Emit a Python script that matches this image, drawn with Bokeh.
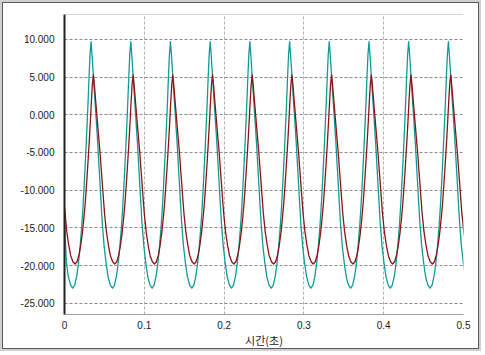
from bokeh.plotting import figure
from bokeh.models import Range1d, FixedTicker, PrintfTickFormatter, Span
from bokeh.embed import file_html
from bokeh.resources import INLINE

# ---- data ----
# time of each cycle's minimum (s)
teal_trough_t = [0.0103, 0.0601, 0.1098, 0.1596, 0.2093, 0.2591, 0.3088, 0.3586, 0.4083, 0.4581]
red_trough_t = [0.0132, 0.0630, 0.1127, 0.1625, 0.2122, 0.2620, 0.3117, 0.3615, 0.4112, 0.4610]
# one cycle, sampled from the minimum (ms after the minimum)
phase_ms = [0, 2.5, 5.0, 7.0, 9.2, 11.3, 12.8, 14.2, 15.4, 16.7,
            17.9, 19.2, 20.5, 21.7, 23.0, 24.3, 25.9, 27.4, 28.9, 30.1,
            31.4, 32.6, 33.9, 35.4, 37.0, 39.3, 41.8, 44.3, 47.1]
teal_cycle = [-23.0, -22.6, -21.4, -19.9, -17.6, -14.8, -12.4, -9.7, -7.2, -4.4,
              -1.6, 1.6, 5.1, 8.0, 9.7, 7.8, 5.1, 2.6, 0.2, -1.8,
              -3.9, -6.2, -8.6, -11.4, -14.3, -17.4, -19.7, -21.5, -22.6]
red_cycle = [-19.8, -19.5, -18.6, -17.4, -15.7, -13.5, -11.7, -9.6, -7.7, -5.5,
             -3.4, -0.9, 1.8, 4.0, 5.3, 3.9, 1.8, -0.1, -2.0, -3.5,
             -5.1, -6.9, -8.7, -10.9, -13.1, -15.5, -17.3, -18.7, -19.5]
# start of the record, before the first minimum
teal_lead_t = [0.0, 0.0024, 0.0049, 0.0077]
teal_lead_v = [-14.0, -19.7, -21.5, -22.6]
red_lead_t = [0.0, 0.0028, 0.0053, 0.0078, 0.0106]
red_lead_v = [-12.2, -15.5, -17.3, -18.7, -19.5]

x_ticks = [0, 0.1, 0.2, 0.3, 0.4, 0.5]
y_ticks = [-25, -20, -15, -10, -5, 0, 5, 10]
x_label = "시간(초)"

teal_t = list(teal_lead_t)
teal_v = list(teal_lead_v)
for tr in teal_trough_t:
    for ph, v in zip(phase_ms, teal_cycle):
        teal_t.append(tr + ph / 1000.0)
        teal_v.append(v)
red_t = list(red_lead_t)
red_v = list(red_lead_v)
for tr in red_trough_t:
    for ph, v in zip(phase_ms, red_cycle):
        red_t.append(tr + ph / 1000.0)
        red_v.append(v)

p = figure(width=477, height=347, output_backend="svg", toolbar_location=None,
           x_range=Range1d(0, 0.5), y_range=Range1d(-26.5, 13.3),
           min_border_left=61, min_border_right=17, min_border_top=11, min_border_bottom=36,
           background_fill_color="white", border_fill_color="white")
p.styles = {"margin": "2px 5px 5px 2px", "border": "1px solid #5a5a5a",
            "box-shadow": "0 0 0 2px #d0d0d0"}
p.outline_line_color = None

p.line(teal_t, teal_v, line_color="#129a9a", line_width=1.3, line_join="round")
p.line(red_t, red_v, line_color="#8e1414", line_width=1.3, line_join="round")

p.add_layout(Span(location=13.3, dimension="width", line_color="#a8a8a8", line_width=1))

p.xaxis.ticker = FixedTicker(ticks=x_ticks)
p.yaxis.ticker = FixedTicker(ticks=y_ticks)
p.yaxis.formatter = PrintfTickFormatter(format="%.3f")
p.xaxis.axis_label = x_label

for ax in (p.xaxis, p.yaxis):
    ax.major_tick_in = 0
    ax.major_tick_out = 0
    ax.minor_tick_in = 0
    ax.minor_tick_out = 0
    ax.major_label_text_font = "Liberation Sans"
    ax.major_label_text_font_size = "10px"
    ax.major_label_text_color = "#1a1a1a"
p.yaxis.major_label_standoff = 10
p.xaxis.major_label_standoff = 6

p.xaxis.axis_line_color = "#a0a0a0"
p.yaxis.axis_line_color = "#222222"
p.yaxis.axis_line_width = 2
p.xaxis.axis_label_text_font = "Noto Sans CJK KR"
p.xaxis.axis_label_text_font_size = "11px"
p.xaxis.axis_label_text_font_style = "normal"
p.xaxis.axis_label_text_color = "#1a1a1a"
p.xaxis.axis_label_standoff = 0

p.xgrid.grid_line_color = "#b0b0b0"
p.xgrid.grid_line_dash = "3 2"
p.ygrid.grid_line_color = "#8c8c8c"
p.ygrid.grid_line_dash = "3 2"

open("out.html", "w").write(file_html(p, INLINE))
